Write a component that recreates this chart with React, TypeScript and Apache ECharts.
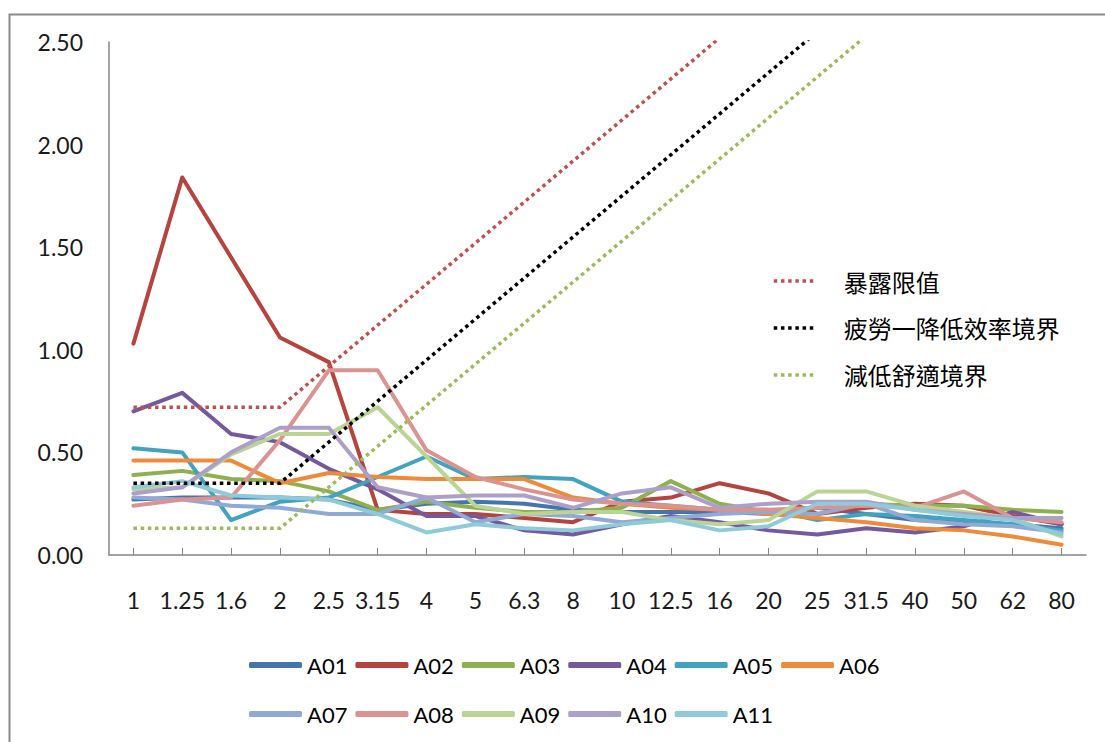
import React, { useEffect, useRef } from "react";
import * as echarts from "echarts";

// Frequency bands (Hz)
const categories = ["1", "1.25", "1.6", "2", "2.5", "3.15", "4", "5", "6.3", "8", "10", "12.5", "16", "20", "25", "31.5", "40", "50", "62", "80"];

// Measured acceleration per band
const A01 = [0.27, 0.28, 0.28, 0.28, 0.27, 0.22, 0.25, 0.26, 0.25, 0.22, 0.21, 0.21, 0.21, 0.2, 0.23, 0.2, 0.17, 0.16, 0.15, 0.13];
const A02 = [1.03, 1.84, 1.45, 1.06, 0.94, 0.22, 0.2, 0.2, 0.18, 0.16, 0.26, 0.28, 0.35, 0.3, 0.2, 0.23, 0.25, 0.24, 0.19, 0.15];
const A03 = [0.39, 0.41, 0.37, 0.36, 0.31, 0.22, 0.26, 0.23, 0.21, 0.21, 0.23, 0.36, 0.25, 0.21, 0.23, 0.25, 0.24, 0.24, 0.22, 0.21];
const A04 = [0.7, 0.79, 0.59, 0.55, 0.42, 0.32, 0.19, 0.19, 0.12, 0.1, 0.15, 0.19, 0.16, 0.12, 0.1, 0.13, 0.11, 0.14, 0.21, 0.15];
const A05 = [0.52, 0.5, 0.17, 0.26, 0.28, 0.38, 0.48, 0.37, 0.38, 0.37, 0.26, 0.24, 0.22, 0.22, 0.17, 0.2, 0.19, 0.17, 0.15, 0.12];
const A06 = [0.46, 0.46, 0.46, 0.35, 0.4, 0.38, 0.37, 0.37, 0.37, 0.28, 0.25, 0.23, 0.22, 0.2, 0.18, 0.16, 0.13, 0.12, 0.09, 0.05];
const A07 = [0.28, 0.27, 0.24, 0.23, 0.2, 0.2, 0.28, 0.16, 0.2, 0.19, 0.16, 0.18, 0.2, 0.21, 0.2, 0.25, 0.17, 0.15, 0.14, 0.11];
const A08 = [0.24, 0.27, 0.28, 0.56, 0.9, 0.9, 0.51, 0.38, 0.32, 0.27, 0.25, 0.24, 0.22, 0.22, 0.23, 0.24, 0.23, 0.31, 0.18, 0.16];
const A09 = [0.32, 0.33, 0.49, 0.59, 0.59, 0.72, 0.48, 0.24, 0.2, 0.21, 0.21, 0.17, 0.15, 0.17, 0.31, 0.31, 0.24, 0.21, 0.18, 0.09];
const A10 = [0.3, 0.33, 0.5, 0.62, 0.62, 0.33, 0.28, 0.29, 0.29, 0.23, 0.3, 0.33, 0.23, 0.25, 0.26, 0.26, 0.22, 0.2, 0.18, 0.18];
const A11 = [0.33, 0.36, 0.29, 0.28, 0.27, 0.2, 0.11, 0.15, 0.13, 0.12, 0.15, 0.17, 0.12, 0.14, 0.25, 0.25, 0.22, 0.19, 0.17, 0.1];

// Boundary curves
const exposureLimit = [0.72, 0.72, 0.72, 0.72, 0.92, 1.12, 1.32, 1.52, 1.72, 1.92, 2.12, 2.32, 2.52];
const fatigueBoundary = [0.35, 0.35, 0.35, 0.35, 0.55, 0.75, 0.95, 1.15, 1.35, 1.55, 1.75, 1.95, 2.15, 2.35, 2.55];
const comfortBoundary = [0.13, 0.13, 0.13, 0.13, 0.33, 0.53, 0.73, 0.93, 1.13, 1.33, 1.53, 1.73, 1.93, 2.13, 2.33, 2.53];

const yTicks = { min: 0, max: 2.5, interval: 0.5 };

const measured: [string, number[], string][] = [
  ["A01", A01, "#4575B0"],
  ["A02", A02, "#B5443F"],
  ["A03", A03, "#8EB04E"],
  ["A04", A04, "#76599C"],
  ["A05", A05, "#41A3BD"],
  ["A06", A06, "#EF8A3B"],
  ["A07", A07, "#91AAD5"],
  ["A08", A08, "#DB9391"],
  ["A09", A09, "#BBD495"],
  ["A10", A10, "#ADA0C8"],
  ["A11", A11, "#8ECAD9"],
];

const limits: [string, number[], string][] = [
  ["暴露限值", exposureLimit, "#C0504D"],
  ["疲勞一降低效率境界", fatigueBoundary, "#000000"],
  ["減低舒適境界", comfortBoundary, "#9BBB59"],
];

const FONT = "Lato, 'Open Sans', sans-serif";

export default function App() {
  const ref = useRef<HTMLDivElement>(null);

  useEffect(() => {
    if (!ref.current) return;
    const chart = echarts.init(ref.current, undefined, { renderer: "svg" });

    const series: any[] = [
      ...measured.map(([name, data, color]) => ({
        name,
        type: "line",
        data,
        symbol: "none",
        lineStyle: { color, width: 4, cap: "round", join: "round" },
        itemStyle: { color },
      })),
      ...limits.map(([name, data, color]) => ({
        name,
        type: "line",
        data,
        symbol: "none",
        lineStyle: { color, width: 3.5, type: [3.5, 3.7], cap: "butt" },
        itemStyle: { color },
      })),
    ];

    // Solid series: a thick rounded bar as the key
    const legendBase = {
      icon: "roundRect",
      itemWidth: 53,
      itemHeight: 6,
      itemGap: 8,
      orient: "horizontal",
      textStyle: { fontFamily: FONT, fontSize: 22, color: "#000" },
      padding: 0,
    };

    chart.setOption({
      animation: false,
      textStyle: { fontFamily: FONT },
      graphic: [
        {
          type: "rect",
          left: 7,
          top: 12,
          shape: { width: 1400, height: 1000 },
          style: { fill: "none", stroke: "#8a8a8a", lineWidth: 2 },
          silent: true,
        },
      ],
      grid: { left: 109, right: 19, top: 42, bottom: 187, containLabel: false },
      legend: [
        {
          ...legendBase,
          data: measured.slice(0, 6).map((m) => m[0]),
          left: 249,
          top: 654,
        },
        {
          ...legendBase,
          data: measured.slice(6).map((m) => m[0]),
          left: 249,
          top: 703,
        },
        {
          data: limits.map((l) => l[0]),
          orient: "vertical",
          left: 772,
          top: 269,
          itemWidth: 43,
          itemHeight: 14,
          itemGap: 23,
          padding: 0,
          itemStyle: { opacity: 0 },
          lineStyle: { width: 3.5 },
          textStyle: {
            fontFamily: "'Noto Sans CJK TC', sans-serif",
            fontSize: 24,
            color: "#000",
            padding: [0, 0, 0, 22],
          },
        },
      ],
      xAxis: {
        type: "category",
        data: categories,
        boundaryGap: true,
        axisLine: { show: true, lineStyle: { color: "#868686", width: 1.5 } },
        axisTick: { show: true, alignWithLabel: true, inside: true, length: 7, lineStyle: { color: "#868686" } },
        axisLabel: { interval: 0, margin: 33, fontSize: 23, color: "#1a1a1a", fontFamily: FONT },
        splitLine: { show: false },
      },
      yAxis: {
        type: "value",
        min: yTicks.min,
        max: yTicks.max,
        interval: yTicks.interval,
        axisLine: { show: true, lineStyle: { color: "#868686", width: 1.5 } },
        axisTick: { show: false },
        axisLabel: {
          margin: 26,
          fontSize: 23,
          color: "#1a1a1a",
          fontFamily: FONT,
          formatter: (v: number) => v.toFixed(2),
        },
        splitLine: { show: false },
      },
      series,
    });

    return () => chart.dispose();
  }, []);

  return (
    <div
      ref={ref}
      style={{ position: "fixed", left: 0, top: 0, width: 1105, height: 742, background: "#fff" }}
    />
  );
}
